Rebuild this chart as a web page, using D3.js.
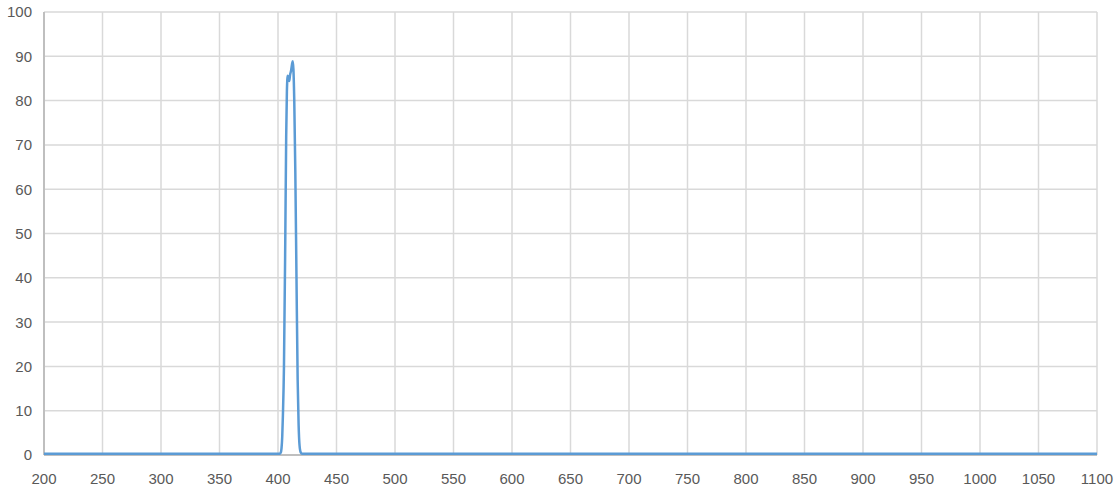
<!DOCTYPE html>
<html>
<head>
<meta charset="utf-8">
<script src="https://cdn.jsdelivr.net/npm/d3@7"></script>
<style>
  body { margin: 0; background: #fff; }
  text { font-family: "Liberation Sans", "DejaVu Sans", sans-serif; fill: #595959; font-size: 15px; }
</style>
</head>
<body>
<svg id="chart" width="1118" height="493"></svg>
<script>
// wavelength (nm) and transmission (%)
var wavelength = [200, 300, 400, 401.5, 402.3, 403.0, 403.6, 404.2, 405.1, 406.2, 407.0, 407.6, 408.3, 409.0, 409.6, 410.3, 411.2, 412.0, 412.6, 413.2, 413.9, 414.8, 415.8, 416.8, 417.6, 418.4, 419.4, 420.5, 500, 700, 900, 1100];
var transmission = [0.3, 0.3, 0.3, 0.3, 0.5, 1.5, 4, 9, 20, 48, 72, 82, 85.6, 85.0, 84.4, 85.8, 86.8, 88.2, 88.9, 87, 80, 64, 40, 17, 7, 2.2, 0.6, 0.3, 0.3, 0.3, 0.3, 0.3];

var xTicks = d3.range(200, 1101, 50);
var yTicks = d3.range(0, 101, 10);

var width = 1118, height = 493;
var margin = {top: 12, right: 21, bottom: 38, left: 44};

var x = d3.scaleLinear().domain([200, 1100]).range([margin.left, width - margin.right]);
var y = d3.scaleLinear().domain([0, 100]).range([height - margin.bottom, margin.top]);

var svg = d3.select("#chart");

// grid
svg.append("g")
    .selectAll("line")
    .data(xTicks)
    .join("line")
    .attr("x1", d => x(d)).attr("x2", d => x(d))
    .attr("y1", y(0)).attr("y2", y(100))
    .attr("stroke", "#d9d9d9")
    .attr("stroke-width", 1.5);

svg.append("g")
    .selectAll("line")
    .data(yTicks)
    .join("line")
    .attr("x1", x(200)).attr("x2", x(1100))
    .attr("y1", d => y(d)).attr("y2", d => y(d))
    .attr("stroke", "#d9d9d9")
    .attr("stroke-width", 1.5);

// axis lines
svg.append("line")
    .attr("x1", x(200)).attr("x2", x(200))
    .attr("y1", y(0)).attr("y2", y(100))
    .attr("stroke", "#bfbfbf").attr("stroke-width", 2);
svg.append("line")
    .attr("x1", x(200)).attr("x2", x(1100))
    .attr("y1", y(0)).attr("y2", y(0))
    .attr("stroke", "#bfbfbf").attr("stroke-width", 2);

// tick labels
svg.append("g")
    .selectAll("text")
    .data(xTicks)
    .join("text")
    .attr("x", d => x(d))
    .attr("y", 484)
    .attr("text-anchor", "middle")
    .text(d => d);

svg.append("g")
    .selectAll("text")
    .data(yTicks)
    .join("text")
    .attr("x", 32)
    .attr("y", d => y(d))
    .attr("dy", "0.36em")
    .attr("text-anchor", "end")
    .text(d => d);

// curve
var line = d3.line()
    .x((d, i) => x(wavelength[i]))
    .y(d => y(d))
    .curve(d3.curveMonotoneX);

svg.append("path")
    .datum(transmission)
    .attr("d", line)
    .attr("fill", "none")
    .attr("stroke", "#5b9bd5")
    .attr("stroke-width", 2.5)
    .attr("stroke-linejoin", "round");
</script>
</body>
</html>
